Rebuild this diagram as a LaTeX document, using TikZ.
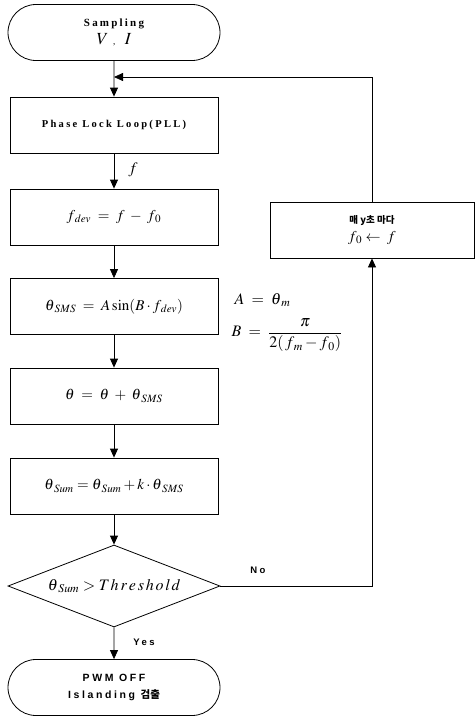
\documentclass[tikz,border=0pt]{standalone}
\usepackage{mathptmx}
\usepackage{fontspec}
\setmainfont{Liberation Serif}
\newfontfamily\lsans{Liberation Sans}
\newfontfamily\kr{Noto Sans CJK KR}
\usetikzlibrary{shapes.geometric,shapes.misc,arrows.meta}
\newcommand\thsub[1]{\theta_{\mkern3mu #1}}
\begin{document}
\begin{tikzpicture}[x=1pt,y=-1pt,
  every path/.style={line width=0.8pt},
  arr/.style={-{Triangle[width=8pt,length=9pt]}},
  term/.style={draw,rounded rectangle,minimum width=212pt,minimum height=56pt,inner sep=0pt,align=center},
  box/.style={draw,rectangle,minimum width=208pt,minimum height=56pt,inner sep=0pt,align=center,font=\fontsize{15}{17}\selectfont},
  dec/.style={draw,diamond,shape aspect=2.6,minimum width=212pt,minimum height=82pt,inner sep=0pt,font=\fontsize{16}{18}\selectfont},
  lbl/.style={font=\lsans\bfseries\fontsize{9.5}{11}\selectfont\addfontfeature{LetterSpace=25}}
]
\useasboundingbox (0,0) rectangle (475,716);
\node[term] (start) at (114,32.5) {{\bfseries\fontsize{11}{12}\selectfont\addfontfeature{LetterSpace=20}Sampling}\\[4pt] {\fontsize{17}{18}\selectfont$V$\;{\fontsize{9}{9}\selectfont,}\;\;$I$}};
\node[box] (pll) at (114,125) {{\bfseries\fontsize{10.5}{12}\selectfont\addfontfeature{LetterSpace=22}Phase Lock Loop(PLL)}};
\node[box] (fdev) at (114,217) {$f_{\mkern2mu dev} \;=\; f \;-\; f_{\mkern2mu 0}$};
\node[box] (sms) at (114,306.5) {$\thsub{SMS} \;=\; A\sin(B\cdot f_{\mkern2mu dev})$};
\node[box] (th) at (114,396) {$\theta \;=\; \theta \;+\; \thsub{SMS}$};
\node[box] (sum) at (114,486) {$\thsub{Sum} = \thsub{Sum} + k\cdot\thsub{SMS}$};
\node[dec] (d) at (114,586) {$\thsub{Sum} > \mathit{T\,h\,r\,e\,s\,h\,o\,l\,d}$};
\node[term] (end) at (114,687.5) {{\lsans\bfseries\fontsize{10.5}{12}\selectfont\addfontfeature{LetterSpace=25}PWM OFF}\\[5pt]{\lsans\bfseries\fontsize{10.5}{12}\selectfont\addfontfeature{LetterSpace=25}Islanding {\kr\bfseries 검출}}};
\node[draw,rectangle,minimum width=204pt,minimum height=56pt,inner sep=0pt,align=center] (upd) at (372,230) {{\kr\bfseries\fontsize{9.5}{11}\selectfont 매 y초 마다}\\[4pt]{\fontsize{15}{17}\selectfont$f_{\mkern2mu 0} \leftarrow\; f$}};
\node[anchor=west,font=\fontsize{16}{18}\selectfont] (aeq) at (231,300) {$A \;=\; \thsub{m}$};
\node[anchor=west,font=\fontsize{16}{18}\selectfont] (beq) at (228,335) {$B \;=\; \displaystyle\frac{\pi}{2(\,f_{\mkern2mu m} - f_{\mkern2mu 0})}$};
\node[font=\fontsize{16}{18}\selectfont] (flab) at (133,170) {$f$};
\node[lbl] (nolab) at (258,570) {No};
\node[lbl] (yeslab) at (144,642) {Yes};
\coordinate (j) at (114,77);
\coordinate (c) at (372,77);
\draw[arr] (start) -- (pll);
\draw[arr] (pll) -- (fdev);
\draw[arr] (fdev) -- (sms);
\draw[arr] (sms) -- (th);
\draw[arr] (th) -- (sum);
\draw[arr] (sum) -- (d);
\draw[arr] (d) -- (end);
\draw[arr] (d.east) -| (upd.south);
\draw[arr] (upd.north) -- (c) -- (j);
\end{tikzpicture}
\end{document}
